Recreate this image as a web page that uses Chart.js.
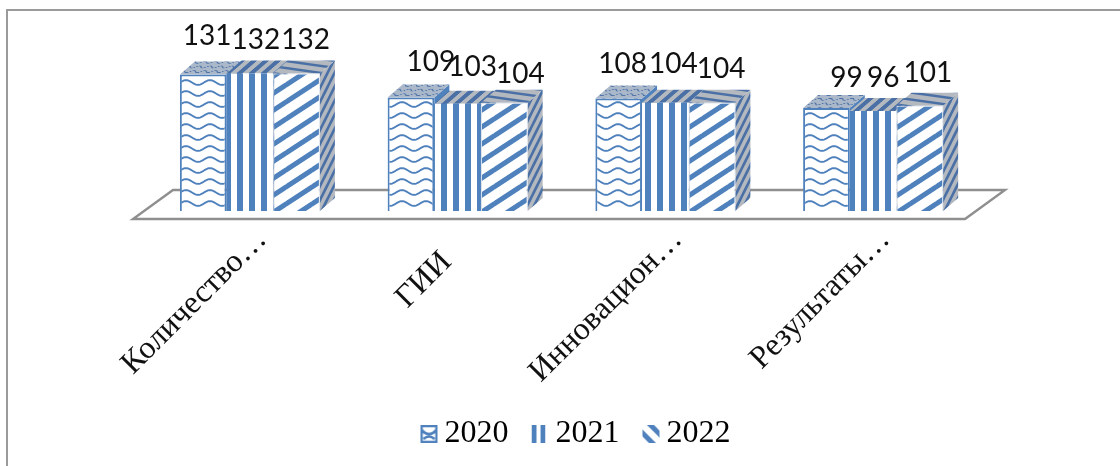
<!DOCTYPE html>
<html lang="ru">
<head>
<meta charset="utf-8">
<title>Индикаторы 2020–2022</title>
<script src="https://cdn.jsdelivr.net/npm/chart.js@4/dist/chart.umd.min.js"></script>
<style>
  html, body { margin: 0; padding: 0; background: #fff; }
  #quadro { position: relative; width: 1120px; height: 466px; overflow: hidden; }
  #moldura {
    position: absolute; left: 6px; top: 9px; right: -4px; bottom: -4px;
    border-left: 2px solid #9a9a9a; border-top: 2px solid #9a9a9a;
  }
  canvas { position: absolute; left: 0; top: 0; }
</style>
</head>
<body>
<div id="quadro">
  <div id="moldura"></div>
  <canvas id="grafico" width="1120" height="466"></canvas>
</div>
<script>
// === DADOS =================================================================
const categorias = ['Количество…', 'ГИИ', 'Инновацион…', 'Результаты…'];
const anos = ['2020', '2021', '2022'];
const valores2020 = [131, 109, 108, 99];
const valores2021 = [132, 103, 104, 96];
const valores2022 = [132, 104, 104, 101];

// deslocamento manual dos rótulos de valor (por ano, por categoria)
const rotuloDx = [[4, 20, 4, 20], [6, 15, 8, 10], [9, 16, 9, 8]];
const rotuloDy = [[-30, -26, -26, -21], [-25, -28, -30, -24], [-25, -20, -25, -24]];
// espaços no fim do rótulo empurram o texto girado para baixo e para a esquerda
const recuoEixo = ['', '\u00a0\u00a0\u00a0\u00a0', '', ''];

// === CORES E PROFUNDIDADE ==================================================
const AZUL = '#4f81bd';
const AZUL_ESCURO = '#4a70a6';
const CINZA = '#b4b8bf';
const PROF_X = 15;
const PROF_Y = 13;
const BASE_Y = 211;

// === HACHURAS ==============================================================
function tile(w, h, fundo, desenha) {
  const c = document.createElement('canvas');
  c.width = w;
  c.height = h;
  const g = c.getContext('2d');
  g.fillStyle = fundo;
  g.fillRect(0, 0, w, h);
  desenha(g);
  return c;
}

function padrao(canvasTile, matriz) {
  const p = document.createElement('canvas').getContext('2d').createPattern(canvasTile, 'repeat');
  if (matriz) p.setTransform(new DOMMatrix(matriz));
  return p;
}

function onda(fundo, cor, largura) {
  return tile(24, 11, fundo, g => {
    g.strokeStyle = cor;
    g.lineWidth = largura;
    g.beginPath();
    for (let x = -1; x <= 25; x++) {
      const y = 5.5 + 2.4 * Math.sin(x / 24 * Math.PI * 2);
      x === -1 ? g.moveTo(x, y) : g.lineTo(x, y);
    }
    g.stroke();
  });
}

function vertical(fundo, cor) {
  return tile(12, 4, fundo, g => {
    g.fillStyle = cor;
    g.fillRect(0, 0, 3, 4);
    g.fillRect(9, 0, 3, 4);
  });
}

function diagonal(w, h, fundo, cor, largura) {
  return tile(w, h, fundo, g => {
    g.strokeStyle = cor;
    g.lineWidth = largura;
    [-1, 0, 1, 2].forEach(k => {
      g.beginPath();
      g.moveTo(-1, h * k + h / w);
      g.lineTo(w + 1, h * k - h - h / w);
      g.stroke();
    });
  });
}

const frentes = [
  padrao(onda('#fff', AZUL, 1.9)),
  padrao(vertical('#fff', AZUL)),
  padrao(diagonal(26, 17, '#fff', AZUL, 5))
];

const SKEW = [1, 0, -PROF_X / PROF_Y, 1, 0, 0];
const topos = [
  padrao(onda('#aab8ca', AZUL_ESCURO, 1.6), [0.45, 0, -0.5, 0.42, 0, 0]),
  padrao(vertical(CINZA, AZUL_ESCURO), SKEW),
  padrao(tile(50, 7, CINZA, g => {
    g.strokeStyle = AZUL_ESCURO;
    g.lineWidth = 2.4;
    [-1, 0, 1, 2].forEach(k => {
      g.beginPath();
      g.moveTo(-1, 7 * k - 0.14);
      g.lineTo(51, 7 * k + 7.14);
      g.stroke();
    });
  }))
];
const lados = [
  AZUL,
  padrao(diagonal(7, 14, CINZA, AZUL_ESCURO, 2.6)),
  padrao(diagonal(7, 14, CINZA, AZUL_ESCURO, 2.6))
];

// amostras da legenda usam hachura mais grossa que as barras
const amostras = [
  padrao(tile(17, 18, '#fff', g => {
    g.strokeStyle = AZUL;
    g.lineWidth = 2.6;
    g.strokeRect(1, 1, 15, 16);
    g.beginPath();
    g.moveTo(1, 5);
    g.quadraticCurveTo(8.5, 13, 16, 5);
    g.moveTo(3, 14);
    g.quadraticCurveTo(8.5, 9, 14, 14);
    g.stroke();
  })),
  padrao(tile(9, 4, '#fff', g => {
    g.fillStyle = AZUL;
    g.fillRect(0, 0, 5, 4);
  })),
  padrao(tile(16, 16, '#fff', g => {
    g.strokeStyle = AZUL;
    g.lineWidth = 5;
    [-8, 8].forEach(k => {
      g.beginPath();
      g.moveTo(-2, k - 2);
      g.lineTo(18, k + 18);
      g.stroke();
    });
  }))
];

// === PLUGINS ===============================================================
function face(ctx, pontos, estilo) {
  ctx.fillStyle = estilo;
  ctx.beginPath();
  pontos.forEach((p, i) => (i ? ctx.lineTo(p[0], p[1]) : ctx.moveTo(p[0], p[1])));
  ctx.closePath();
  ctx.fill();
}

// piso e faces de topo/lado, desenhados antes das frentes das barras
const caixa3d = {
  id: 'caixa3d',
  afterLayout(chart) {
    // a legenda fica um pouco à direita e acima da posição padrão
    const legenda = chart.legend;
    legenda.left += 14;
    legenda.right += 14;
    legenda.top -= 6;
    legenda.bottom -= 6;
  },
  beforeDatasetsDraw(chart) {
    const { ctx, chartArea } = chart;
    const yFrente = chartArea.bottom + 8;
    const yFundo = chartArea.bottom - 21;
    ctx.save();
    ctx.strokeStyle = '#8f8f8f';
    ctx.lineWidth = 2.4;
    ctx.beginPath();
    ctx.moveTo(chartArea.left - 13, yFrente);
    ctx.lineTo(chartArea.right - 12, yFrente);
    ctx.lineTo(chartArea.right + 28, yFundo);
    ctx.lineTo(chartArea.left + 27, yFundo);
    ctx.closePath();
    ctx.stroke();

    chart.data.datasets.forEach((ds, i) => {
      chart.getDatasetMeta(i).data.forEach(barra => {
        const esq = barra.x - barra.width / 2;
        const dir = barra.x + barra.width / 2;
        face(ctx, [[dir, barra.y], [dir + PROF_X, barra.y - PROF_Y],
          [dir + PROF_X, barra.base - PROF_Y], [dir, barra.base]], lados[i]);
        face(ctx, [[esq, barra.y], [esq + PROF_X, barra.y - PROF_Y],
          [dir + PROF_X, barra.y - PROF_Y], [dir, barra.y]], topos[i]);
      });
    });
    ctx.restore();
  },
  afterDatasetsDraw(chart) {
    const { ctx } = chart;
    ctx.save();
    ctx.fillStyle = '#111';
    ctx.font = '28px Lato';
    ctx.textAlign = 'center';
    ctx.textBaseline = 'alphabetic';
    chart.data.datasets.forEach((ds, i) => {
      chart.getDatasetMeta(i).data.forEach((barra, j) => {
        ctx.fillText(ds.data[j], barra.x + rotuloDx[i][j], barra.y + rotuloDy[i][j]);
      });
    });
    ctx.restore();
  },
  afterDraw(chart) {
    // amostras da legenda no espaço reservado antes de cada texto
    const { ctx, legend } = chart;
    ctx.save();
    legend.legendHitBoxes.forEach((hit, i) => {
      const y = hit.top + hit.height / 2 - 9;
      ctx.translate(hit.left, y);
      ctx.fillStyle = amostras[i];
      ctx.fillRect(0, 0, i === 1 ? 14 : 17, 18);
      ctx.translate(-hit.left, -y);
    });
    ctx.restore();
  }
};

// === GRÁFICO ===============================================================
const grafico = new Chart(document.getElementById('grafico'), {
  type: 'bar',
  data: {
    labels: categorias,
    datasets: [
      { label: anos[0], data: valores2020, backgroundColor: frentes[0], borderColor: AZUL, borderWidth: 2 },
      { label: anos[1], data: valores2021, backgroundColor: frentes[1], borderWidth: 0 },
      { label: anos[2], data: valores2022, backgroundColor: frentes[2], borderColor: '#dfe6ef', borderWidth: 1 }
    ]
  },
  options: {
    responsive: false,
    animation: false,
    events: [],
    datasets: { bar: { categoryPercentage: 0.674, barPercentage: 1 } },
    layout: { padding: { left: 146, right: 143, top: 10, bottom: 0 } },
    plugins: {
      tooltip: { enabled: false },
      legend: {
        position: 'bottom',
        labels: {
          boxWidth: 8,
          boxHeight: 8,
          padding: 23,
          color: '#111',
          font: { family: '"Liberation Serif"', size: 32 },
          generateLabels: chart => chart.data.datasets.map((ds, i) => ({
            text: ds.label,
            fillStyle: 'transparent',
            strokeStyle: 'transparent',
            lineWidth: 0,
            datasetIndex: i
          }))
        }
      }
    },
    scales: {
      x: {
        grid: { display: false },
        border: { display: false },
        ticks: {
          autoSkip: false,
          minRotation: 45,
          maxRotation: 45,
          padding: 2,
          labelOffset: 12,
          color: '#111',
          font: { family: '"Liberation Serif"', size: 32 },
          callback: (valor, i) => categorias[i] + recuoEixo[i]
        },
        afterFit(scale) {
          scale.height = scale.chart.height - BASE_Y - scale.chart.legend.height;
        }
      },
      y: { display: false, min: 0, max: 193 }
    }
  },
  plugins: [caixa3d]
});
</script>
</body>
</html>
